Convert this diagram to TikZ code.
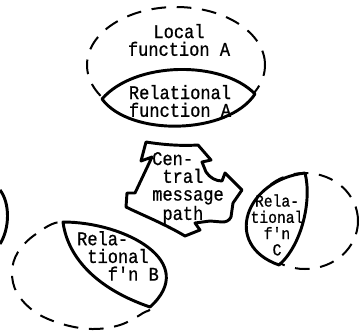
\documentclass[tikz,border=0pt]{standalone}
\usepackage{fontspec}
\setmonofont[FakeStretch=0.88, FakeBold=0.8]{Liberation Mono}
\begin{document}
\begin{tikzpicture}[x=0.75pt,y=-0.75pt,
  scope area/.style={draw, line width=1.5pt, dash pattern=on 11pt off 8pt},
  relational/.style={draw, fill=white, line width=2.2pt, line join=round},
  textlabel/.style={font=\fontsize{14.5}{13.3}\selectfont\ttfamily, align=center, inner sep=0pt},
  small textlabel/.style={font=\fontsize{12.5}{12.2}\selectfont\ttfamily, align=center, inner sep=0pt}]
\useasboundingbox (0,0) rectangle (360,332);

% local scopes (dashed)
\draw[scope area] (176,65) ellipse [x radius=66.75pt, y radius=43.5pt];
\draw[scope area] plot[smooth cycle, tension=0.6] coordinates
  {(63,222) (36,234) (18,252) (12,272) (17,293) (35,312) (62,324) (92,329)
   (120,325) (143,313) (150,305) (135,268) (100,238)};
\draw[scope area] (305,221) ellipse [x radius=39.75pt, y radius=36pt];

% relational functions
\draw[relational] (102,99) .. controls (135,61) and (222,60) .. (255,94)
  .. controls (228,135) and (130,137) .. cycle;
\draw[relational] (63,222) .. controls (125,222) and (200,262) .. (150,307)
  .. controls (100,290) and (68,260) .. cycle;
\draw[relational] (305,173) .. controls (245,180) and (222,245) .. (279,265)
  .. controls (302,245) and (312,200) .. cycle;
\draw[relational, fill=none] (0,190) .. controls (10,203) and (10,228) .. (0,244);

% central message path
\draw[relational] (146,142) .. controls (165,145) and (182,146) .. (198,145)
  -- (211,160) -- (202,162) -- (206,172)
  .. controls (210,178) and (216,181) .. (222,181)
  -- (225,173) -- (242,190) -- (233,203) -- (231,217)
  .. controls (229,221) and (226,222) .. (222,222)
  -- (210,221) -- (195,223) -- (200,230) -- (185,236)
  .. controls (165,224) and (140,214) .. (126,207)
  -- (127,193) -- (135,193) -- (152,157) -- (141,161) -- cycle;

% labels
\node[textlabel] (localA) at (179,40) {Local\\function A};
\node[textlabel] (relA) at (180,101) {Relational\\function A};
\node[textlabel, align=left] (msg) at (188,188)
  {Cen-\\\phantom{t}tral\\message\\\phantom{t}path};
\node[textlabel, align=left] (relB) at (118,256)
  {Rela-\\\phantom{t}tional\\\phantom{ttt}f'n B};
\node[small textlabel] (relC) at (277,225) {Rela-\\tional\\f'n\\C};
\end{tikzpicture}
\end{document}
